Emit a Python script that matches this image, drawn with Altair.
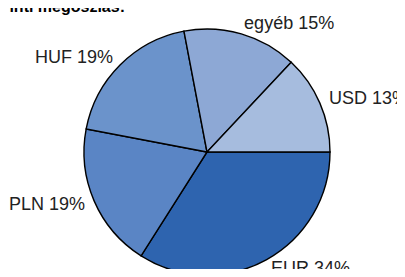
import math
import altair as alt
import pandas as pd

categories = ["EUR", "PLN", "HUF", "egyéb", "USD"]
shares = [34, 19, 19, 15, 13]
colors = ["#2E64AF", "#5A85C5", "#6B93CB", "#8DA8D5", "#A6BCDE"]
title_text = "Deviza szerinti megoszlás:"

total = sum(shares)
df = pd.DataFrame({"cat": categories, "share": shares})

CX, CY = 199, 144
theta_scale = alt.Scale(domain=[0, total], range=[math.pi / 2, math.pi / 2 + 2 * math.pi])
color = alt.Color("cat:N", scale=alt.Scale(domain=categories, range=colors), legend=None)

base = alt.Chart(df).transform_window(idx="row_number()")

arcs = base.mark_arc(radius=123, stroke="black", strokeWidth=1.4).encode(
    theta=alt.Theta("share:Q", stack=True, scale=theta_scale),
    color=color,
    order=alt.Order("idx:Q"),
    x=alt.value(CX),
    y=alt.value(CY),
)

lab = base.transform_window(
    cum="sum(share)", sort=[alt.SortField("idx")], frame=[None, 0]
).transform_calculate(
    mid="datum.cum - datum.share/2",
    label="datum.cat + ' ' + datum.share + '%'",
    side=f"cos(2*PI*datum.mid/{total}) > 0 ? 'left' : 'right'",
)

def text_layer(side):
    return lab.transform_filter(f"datum.side == '{side}'").mark_text(
        radius=133, align=side, baseline="middle", fontSize=18,
        font="Liberation Sans", color="#222222",
    ).encode(
        theta=alt.Theta("mid:Q", stack=None, scale=theta_scale),
        text="label:N",
        x=alt.value(CX),
        y=alt.value(CY),
    )

title = alt.Chart(pd.DataFrame({"t": [title_text]})).mark_text(
    clip=True, align="right", baseline="alphabetic", fontSize=16,
    fontWeight="bold", font="Liberation Sans", color="black",
).encode(text="t:N", x=alt.value(117), y=alt.value(4))

chart = alt.layer(arcs, text_layer("left"), text_layer("right"), title).properties(
    width=389, height=261, autosize=alt.AutoSizeParams(type="none"), padding=0
).configure_view(stroke=None)

chart.save("out.html", embed_options={"renderer": "svg", "actions": False})
